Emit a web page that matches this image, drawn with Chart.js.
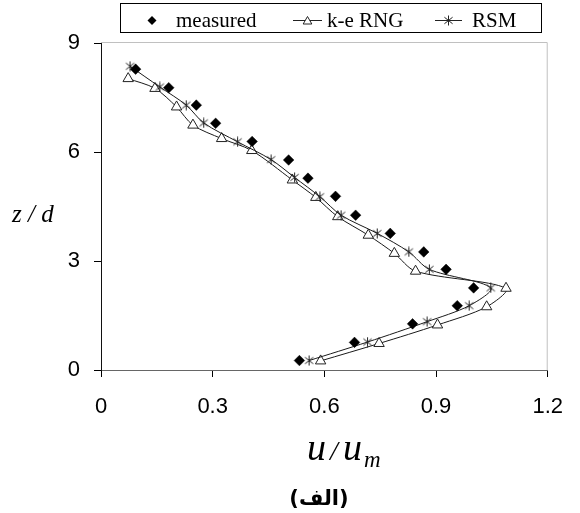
<!DOCTYPE html>
<html>
<head>
<meta charset="utf-8">
<style>
  html, body { margin: 0; padding: 0; background: #fff; }
  canvas { display: block; }
</style>
<script src="https://cdn.jsdelivr.net/npm/chart.js@4/dist/chart.umd.min.js"></script>
</head>
<body>
<canvas id="profile" width="580" height="513"></canvas>
<script>
// Velocity profile: height z/d against normalised velocity u/u_m
const seriesNames = ['measured', 'k-e RNG', 'RSM'];

const measuredU = [0.533, 0.681, 0.837, 0.957, 1.001, 0.927, 0.867, 0.777, 0.684, 0.630, 0.556, 0.504, 0.406, 0.308, 0.256, 0.182, 0.093];
const measuredZ = [0.26, 0.76, 1.27, 1.77, 2.26, 2.77, 3.25, 3.76, 4.26, 4.78, 5.28, 5.78, 6.29, 6.79, 7.29, 7.77, 8.28];

const rngU = [0.590, 0.747, 0.904, 1.036, 1.088, 0.845, 0.788, 0.718, 0.636, 0.577, 0.514, 0.405, 0.324, 0.247, 0.203, 0.145, 0.073];
const rngZ = [0.25, 0.73, 1.24, 1.74, 2.25, 2.72, 3.21, 3.71, 4.22, 4.75, 5.23, 6.04, 6.37, 6.74, 7.24, 7.75, 8.02];

const rsmU = [0.559, 0.716, 0.876, 0.989, 1.047, 0.882, 0.827, 0.742, 0.645, 0.588, 0.520, 0.457, 0.367, 0.276, 0.229, 0.158, 0.078];
const rsmZ = [0.26, 0.77, 1.33, 1.77, 2.26, 2.77, 3.25, 3.76, 4.26, 4.77, 5.30, 5.79, 6.28, 6.80, 7.29, 7.79, 8.36];

const xTickValues = [0, 0.3, 0.6, 0.9, 1.2];
const xTickLabels = ['0', '0.3', '0.6', '0.9', '1.2'];
const yTickValues = [0, 3, 6, 9];
const yTickLabels = ['0', '3', '6', '9'];

const xTitleMain = 'u';
const xTitleSlash = '/';
const xTitleSub = 'm';
const yTitle = 'z / d';
const caption = '(الف)';

const INK = '#1a1a1a';
const FRAME = '#c0c0c0';
const SERIF = '"Liberation Serif", "Times New Roman", serif';

function toPoints(us, zs) {
  return us.map((u, i) => ({ x: u, y: zs[i] }));
}

// six-armed asterisk marker drawn once on a small canvas
function makeAsterisk(size, color) {
  const c = document.createElement('canvas');
  c.width = size; c.height = size;
  const g = c.getContext('2d');
  const m = size / 2;
  const r = size / 2 - 0.5;
  const d = r * 0.82;
  g.strokeStyle = color;
  g.lineWidth = 1;
  g.beginPath();
  g.moveTo(m, m - r); g.lineTo(m, m + r);
  g.moveTo(m - d, m - d * 0.8); g.lineTo(m + d, m + d * 0.8);
  g.moveTo(m + d, m - d * 0.8); g.lineTo(m - d, m + d * 0.8);
  g.stroke();
  return c;
}
const asterisk = makeAsterisk(11, '#222');

function drawDiamond(ctx, x, y, r) {
  ctx.beginPath();
  ctx.moveTo(x - r, y); ctx.lineTo(x, y - r); ctx.lineTo(x + r, y); ctx.lineTo(x, y + r);
  ctx.closePath();
  ctx.fillStyle = '#000';
  ctx.fill();
}
function drawTriangle(ctx, x, y, r) {
  ctx.beginPath();
  for (let k = 0; k < 3; k++) {
    const a = k * 2 * Math.PI / 3;
    const px = x + Math.sin(a) * r, py = y - Math.cos(a) * r;
    if (k === 0) ctx.moveTo(px, py); else ctx.lineTo(px, py);
  }
  ctx.closePath();
  ctx.fillStyle = '#fff';
  ctx.fill();
  ctx.lineWidth = 1;
  ctx.strokeStyle = '#222';
  ctx.stroke();
}

// grey plot-area frame behind the axes
const frameOutline = {
  id: 'frameOutline',
  beforeDraw(chart) {
    const { ctx, chartArea: a } = chart;
    ctx.save();
    ctx.strokeStyle = FRAME;
    ctx.lineWidth = 1;
    ctx.beginPath();
    ctx.moveTo(a.left, a.top - 0.5);
    ctx.lineTo(a.right - 0.5, a.top - 0.5);
    ctx.lineTo(a.right - 0.5, a.bottom);
    ctx.stroke();
    ctx.restore();
  }
};

// boxed legend, axis titles and caption
const annotations = {
  id: 'annotations',
  afterDraw(chart) {
    const ctx = chart.ctx;
    ctx.save();

    // legend box
    ctx.strokeStyle = '#000';
    ctx.lineWidth = 1;
    ctx.strokeRect(120.5, 3.5, 421, 29);

    const ly = 20.5;
    ctx.font = '21px ' + SERIF;
    ctx.fillStyle = '#000';
    ctx.textBaseline = 'alphabetic';
    ctx.textAlign = 'left';

    drawDiamond(ctx, 152, ly, 4.5);
    ctx.fillText(seriesNames[0], 176, 26.5);

    ctx.strokeStyle = '#222';
    ctx.beginPath(); ctx.moveTo(293, ly); ctx.lineTo(322, ly); ctx.stroke();
    drawTriangle(ctx, 307.5, ly + 1, 5);
    ctx.fillStyle = '#000';
    ctx.fillText(seriesNames[1], 327, 26.5);

    ctx.strokeStyle = '#222';
    ctx.beginPath(); ctx.moveTo(435, ly); ctx.lineTo(462, ly); ctx.stroke();
    ctx.drawImage(asterisk, 448.5 - 5.5, ly - 5.5, 11, 11);
    ctx.fillStyle = '#000';
    ctx.fillText(seriesNames[2], 472, 26.5);

    // y axis title
    ctx.font = 'italic 25px ' + SERIF;
    ctx.fillText(yTitle, 12, 222);

    // x axis title u / u_m
    ctx.font = 'italic 38px ' + SERIF;
    ctx.fillText(xTitleMain, 307, 460);
    ctx.font = 'italic 28px ' + SERIF;
    ctx.fillText(xTitleSlash, 330, 460);
    ctx.font = 'italic 38px ' + SERIF;
    ctx.fillText(xTitleMain, 343, 460);
    ctx.font = 'italic 23px ' + SERIF;
    ctx.fillText(xTitleSub, 364, 467);

    // caption
    ctx.font = 'bold 21px "DejaVu Sans", sans-serif';
    ctx.textAlign = 'center';
    ctx.fillText(caption, 319, 505);

    ctx.restore();
  }
};

const lineStyle = {
  showLine: true,
  borderColor: INK,
  borderWidth: 1,
  tension: 0.3
};

new Chart(document.getElementById('profile'), {
  type: 'scatter',
  data: {
    datasets: [
      {
        label: seriesNames[0],
        data: toPoints(measuredU, measuredZ),
        showLine: false,
        pointStyle: 'rectRot',
        pointRadius: 5.3,
        pointBackgroundColor: '#000',
        pointBorderColor: '#000',
        pointBorderWidth: 0.5,
        order: 0
      },
      Object.assign({
        label: seriesNames[1],
        data: toPoints(rngU, rngZ),
        pointStyle: 'triangle',
        pointRadius: 6,
        pointBackgroundColor: '#fff',
        pointBorderColor: '#222',
        pointBorderWidth: 1,
        order: 2
      }, lineStyle),
      Object.assign({
        label: seriesNames[2],
        data: toPoints(rsmU, rsmZ),
        pointStyle: asterisk,
        pointRadius: 5.5,
        order: 1
      }, lineStyle)
    ]
  },
  options: {
    responsive: false,
    animation: false,
    devicePixelRatio: 1,
    layout: { padding: { top: 43, right: 20, bottom: 83, left: 0 } },
    plugins: {
      legend: { display: false },
      tooltip: { enabled: false },
      title: { display: false }
    },
    scales: {
      x: {
        type: 'linear',
        min: 0, max: 1.2,
        afterFit(scale) { scale.height = 60; },
        afterBuildTicks(scale) { scale.ticks = xTickValues.map(v => ({ value: v })); },
        grid: { display: true, drawOnChartArea: false, drawTicks: true, tickLength: 7, color: '#000' },
        border: { display: true, color: '#666', width: 1 },
        ticks: {
          padding: 17,
          color: '#000',
          font: { family: '"Liberation Sans", Arial, sans-serif', size: 22 },
          maxRotation: 0,
          autoSkip: false,
          callback(value) {
            const i = xTickValues.findIndex(v => Math.abs(v - value) < 1e-6);
            return i >= 0 ? xTickLabels[i] : '';
          }
        }
      },
      y: {
        type: 'linear',
        min: 0, max: 9,
        afterFit(scale) { scale.width = 101; },
        afterBuildTicks(scale) { scale.ticks = yTickValues.map(v => ({ value: v })); },
        grid: { display: true, drawOnChartArea: false, drawTicks: true, tickLength: 7, color: '#000' },
        border: { display: true, color: '#111', width: 1 },
        ticks: {
          padding: 14,
          color: '#000',
          font: { family: '"Liberation Sans", Arial, sans-serif', size: 22 },
          autoSkip: false,
          callback(value) {
            const i = yTickValues.findIndex(v => Math.abs(v - value) < 1e-6);
            return i >= 0 ? yTickLabels[i] : '';
          }
        }
      }
    }
  },
  plugins: [frameOutline, annotations]
});
</script>
</body>
</html>
